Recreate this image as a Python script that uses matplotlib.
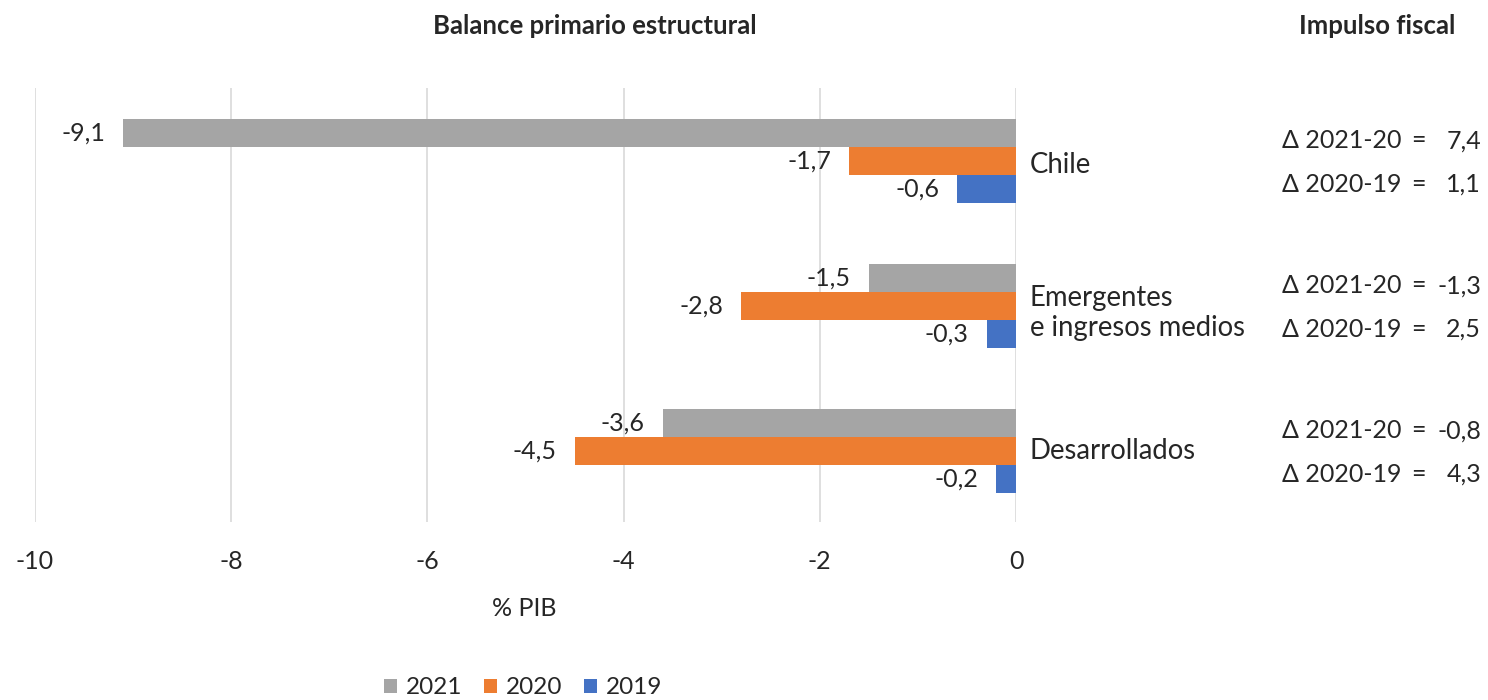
import matplotlib
matplotlib.use("Agg")
import matplotlib.pyplot as plt
from matplotlib.transforms import blended_transform_factory
from matplotlib.patches import Patch

plt.rcParams['font.family'] = ['Lato', 'DejaVu Sans']

categories = ["Chile", "Emergentes\ne ingresos medios", "Desarrollados"]
series_names = ["2021", "2020", "2019"]
values_2021 = [-9.1, -1.5, -3.6]
values_2020 = [-1.7, -2.8, -4.5]
values_2019 = [-0.6, -0.3, -0.2]
impulso_21_20 = [7.4, -1.3, -0.8]
impulso_20_19 = [1.1, 2.5, 4.3]
xticks = [-10, -8, -6, -4, -2, 0]

colors = ["#a5a5a5", "#ed7d31", "#4472c4"]
TXT = "#262626"

def fmt(v):
    return f"{v:.1f}".replace(".", ",")

fig = plt.figure(figsize=(14.88, 7.0), dpi=100)
ax = fig.add_axes([35/1488, 1-522/700, 981/1488, 434/700])

bh = 0.193
offsets = [-bh, 0.0, bh]
all_series = [values_2021, values_2020, values_2019]
for vals, off, col, name in zip(all_series, offsets, colors, series_names):
    ys = [i + off for i in range(len(categories))]
    ax.barh(ys, vals, height=bh, color=col, label=name, zorder=2)
    for y, v in zip(ys, vals):
        ax.annotate(fmt(v), xy=(v, y), xytext=(-13, 0), textcoords="offset points",
                    ha="right", va="center", fontsize=18, color=TXT)

ax.set_xlim(-10, 0)
ax.set_ylim(2.49, -0.503)
ax.set_xticks(xticks)
ax.set_xticklabels([str(t) for t in xticks], fontsize=18, color=TXT)
ax.tick_params(axis="x", length=0, pad=20)
ax.set_yticks([])
ax.grid(axis="x", color="#d9d9d9", linewidth=1.2, zorder=0)
for sp in ax.spines.values():
    sp.set_visible(False)
ax.set_xlabel("% PIB", fontsize=18, color=TXT)
ax.xaxis.set_label_coords((524-35)/981, -(608-522)/434)
ax.xaxis.label.set_va("center")

tr = blended_transform_factory(fig.transFigure, ax.transData)
cat_dy = [0.03, 0.05, 0.0]
for i, cat in enumerate(categories):
    ax.text(1030/1488, i + cat_dy[i], cat, transform=tr, ha="left", va="center",
            fontsize=19.8, color=TXT, linespacing=1.2, clip_on=False)
    for dy, lab, val in [(-0.14, "Δ 2021-20", impulso_21_20[i]), (0.16, "Δ 2020-19", impulso_20_19[i])]:
        ax.text(1282/1488, i + dy, lab, transform=tr, ha="left", va="center",
                fontsize=18, color=TXT, clip_on=False)
        ax.text(1418/1488, i + dy, "=", transform=tr, ha="center", va="center",
                fontsize=18, color=TXT, clip_on=False)
        ax.text(1481/1488, i + dy, fmt(val), transform=tr, ha="right", va="center",
                fontsize=18, color=TXT, clip_on=False)

fig.text(595/1488, 1-26/700, "Balance primario estructural", ha="center", va="center",
         fontsize=18.5, fontweight="bold", color=TXT)
fig.text(1377/1488, 1-26/700, "Impulso fiscal", ha="center", va="center",
         fontsize=18.5, fontweight="bold", color=TXT)

handles = [Patch(facecolor=c, edgecolor="none") for c in colors]
fig.legend(handles, series_names, loc="center", bbox_to_anchor=(523/1488, 1-688/700),
           ncol=3, frameon=False, fontsize=17.5, handlelength=0.55, handleheight=0.55,
           handletextpad=0.35, columnspacing=0.9, labelcolor=TXT)

fig.savefig("out.png", dpi=100)
